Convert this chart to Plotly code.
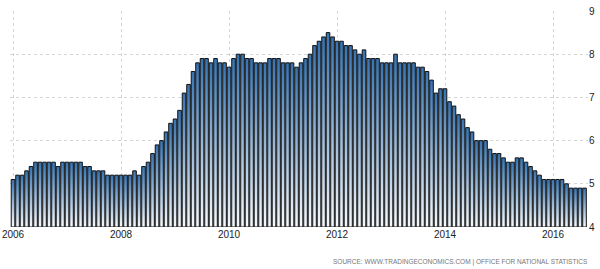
import plotly.graph_objects as go

start_year = 2006
values = [
    5.1, 5.2, 5.2, 5.3, 5.4, 5.5, 5.5, 5.5, 5.5, 5.5, 5.4, 5.5,   # 2006
    5.5, 5.5, 5.5, 5.5, 5.4, 5.4, 5.3, 5.3, 5.3, 5.2, 5.2, 5.2,   # 2007
    5.2, 5.2, 5.2, 5.3, 5.2, 5.4, 5.5, 5.7, 5.9, 6.0, 6.2, 6.4,   # 2008
    6.5, 6.7, 7.1, 7.3, 7.6, 7.8, 7.9, 7.9, 7.8, 7.9, 7.8, 7.8,   # 2009
    7.7, 7.9, 8.0, 8.0, 7.9, 7.9, 7.8, 7.8, 7.8, 7.9, 7.9, 7.9,   # 2010
    7.8, 7.8, 7.8, 7.7, 7.8, 7.9, 8.0, 8.2, 8.3, 8.4, 8.5, 8.4,   # 2011
    8.3, 8.3, 8.2, 8.2, 8.1, 8.0, 8.1, 7.9, 7.9, 7.9, 7.8, 7.8,   # 2012
    7.8, 8.0, 7.8, 7.8, 7.8, 7.8, 7.7, 7.7, 7.6, 7.4, 7.1, 7.2,   # 2013
    7.2, 6.9, 6.8, 6.6, 6.5, 6.3, 6.2, 6.0, 6.0, 6.0, 5.8, 5.7,   # 2014
    5.7, 5.6, 5.5, 5.5, 5.6, 5.6, 5.5, 5.4, 5.3, 5.2, 5.1, 5.1,   # 2015
    5.1, 5.1, 5.1, 5.0, 4.9, 4.9, 4.9, 4.9,                       # 2016
]
tick_years = [2006, 2008, 2010, 2012, 2014, 2016]
tick_labels = [str(y) for y in tick_years]
y_ticks = [4, 5, 6, 7, 8, 9]
source_text = "SOURCE: WWW.TRADINGECONOMICS.COM | OFFICE FOR NATIONAL STATISTICS"

base = 4
half = 0.8 / 12 / 2

fig = go.Figure()
for i, v in enumerate(values):
    xc = start_year + i / 12
    fig.add_trace(go.Scatter(
        x=[xc - half, xc + half, xc + half, xc - half, xc - half],
        y=[base, base, v, v, base],
        mode="lines",
        fill="toself",
        line=dict(color="#111111", width=1),
        fillgradient=dict(type="vertical",
                          colorscale=[[0, "#f7fafd"], [1, "#3573b1"]]),
        hoverinfo="skip",
        showlegend=False,
    ))

fig.update_layout(
    width=600, height=269,
    margin=dict(l=10, r=12, t=11, b=42, autoexpand=False),
    paper_bgcolor="white", plot_bgcolor="white",
    xaxis=dict(
        range=[2005.944, 2016.648],
        tickvals=tick_years, ticktext=tick_labels,
        showgrid=True, gridcolor="#d6d6d6", griddash="dot", gridwidth=1,
        zeroline=False, showline=False, ticks="",
        tickfont=dict(family="Liberation Sans", size=10, color="#222222"),
        automargin=False, fixedrange=True,
    ),
    yaxis=dict(
        range=[4, 9], side="right",
        tickvals=y_ticks,
        showgrid=True, gridcolor="#d6d6d6", griddash="dot", gridwidth=1,
        zeroline=False, showline=False, ticks="",
        tickfont=dict(family="Liberation Sans", size=10, color="#222222"),
        automargin=False, fixedrange=True,
    ),
    annotations=[dict(
        text=source_text, xref="paper", yref="paper",
        x=1, y=-0.162, xanchor="right", yanchor="middle", xshift=2,
        showarrow=False,
        font=dict(family="Liberation Sans", size=6.5, color="#777777"),
    )],
)

fig.write_html("out.html")
